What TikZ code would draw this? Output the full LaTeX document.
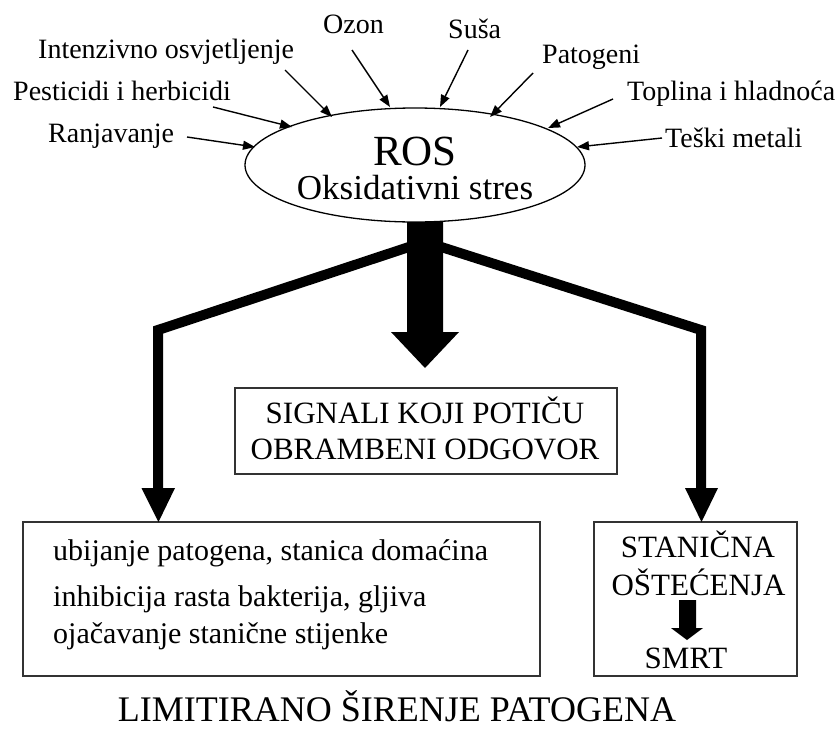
\documentclass[tikz,border=0pt]{standalone}
\usepackage{fontspec}
\setmainfont{Liberation Serif}
\usetikzlibrary{arrows.meta,shapes.geometric}
\begin{document}
\begin{tikzpicture}[x=1pt,y=-1pt,
  lbl/.style={inner sep=0pt, anchor=base west, font=\fontsize{28}{30}\selectfont},
  ctr/.style={inner sep=0pt, anchor=base},
  thinarrow/.style={line width=1.4pt, -{Triangle[length=12pt,width=9pt]}},
  boxstyle/.style={draw=black!80, line width=1.5pt, inner sep=0pt},
  thickline/.style={line width=10pt, line join=miter}]
\useasboundingbox (0,0) rectangle (840,731);

% central ellipse
\node[ellipse, draw, line width=1.3pt, minimum width=340pt, minimum height=114pt, inner sep=0pt] (ros) at (415,165) {};
\node[ctr, font=\fontsize{43}{45}\selectfont] (rostxt) at (415,165) {ROS};
\node[ctr, font=\fontsize{35}{37}\selectfont] (oks) at (415,199) {Oksidativni stres};

% stress factor labels
\node[lbl] (ozon) at (323,33) {Ozon};
\node[lbl] (inten) at (38,58) {Intenzivno osvjetljenje};
\node[lbl] (pest) at (13,100) {Pesticidi i herbicidi};
\node[lbl] (ranj) at (48,142) {Ranjavanje};
\node[lbl] (susa) at (448,38) {Suša};
\node[lbl] (pat) at (542,63) {Patogeni};
\node[lbl] (topl) at (627,100) {Toplina i hladnoća};
\node[lbl] (teski) at (665,147) {Teški metali};

% arrow endpoints
\coordinate (ozonS) at (352,50);  \coordinate (ozonE) at (390,107);
\coordinate (intS) at (285,70);   \coordinate (intE) at (332,117);
\coordinate (pestS) at (213,107); \coordinate (pestE) at (292,127);
\coordinate (ranjS) at (187,137); \coordinate (ranjE) at (255,147);
\coordinate (susaS) at (468,50);  \coordinate (susaE) at (440,107);
\coordinate (patS) at (533,73);   \coordinate (patE) at (490,117);
\coordinate (toplS) at (613,99);  \coordinate (toplE) at (548,128);
\coordinate (teskiS) at (662,138);\coordinate (teskiE) at (577,147);

\draw[thinarrow] (ozonS) -- (ozonE);
\draw[thinarrow] (intS) -- (intE);
\draw[thinarrow] (pestS) -- (pestE);
\draw[thinarrow] (ranjS) -- (ranjE);
\draw[thinarrow] (susaS) -- (susaE);
\draw[thinarrow] (patS) -- (patE);
\draw[thinarrow] (toplS) -- (toplE);
\draw[thinarrow] (teskiS) -- (teskiE);

% boxes
\node[boxstyle, minimum width=382pt, minimum height=86pt] (sig) at (426,431) {};
\node[ctr, font=\fontsize{31}{33}\selectfont] (sig1) at (425,423) {SIGNALI KOJI POTIČU};
\node[ctr, font=\fontsize{31}{33}\selectfont] (sig2) at (425,459) {OBRAMBENI ODGOVOR};

\node[boxstyle, minimum width=517pt, minimum height=154pt] (left) at (281.5,599) {};
\node[inner sep=0pt, anchor=base west, font=\fontsize{30}{32}\selectfont] (l1) at (53,560) {ubijanje patogena, stanica domaćina};
\node[inner sep=0pt, anchor=base west, font=\fontsize{30}{32}\selectfont] (l2) at (53,606) {inhibicija rasta bakterija, gljiva};
\node[inner sep=0pt, anchor=base west, font=\fontsize{30}{32}\selectfont] (l3) at (53,643) {ojačavanje stanične stijenke};

\node[boxstyle, minimum width=203pt, minimum height=154pt] (right) at (695.5,599) {};
\node[ctr, font=\fontsize{31}{33}\selectfont] (r1) at (698,557) {STANIČNA};
\node[ctr, font=\fontsize{31}{33}\selectfont] (r2) at (698.5,595) {OŠTEĆENJA};
\node[ctr, font=\fontsize{31}{33}\selectfont] (r3) at (686,668) {SMRT};

\node[ctr, font=\fontsize{36}{38}\selectfont] (title) at (397,721) {LIMITIRANO ŠIRENJE PATOGENA};

% thick central arrow
\fill (407,222) -- (443,222) -- (443,332) -- (459,332) -- (425,368) -- (391,332) -- (407,332) -- cycle;

% branches
\coordinate (lb0) at (415,245); \coordinate (lb1) at (158,330); \coordinate (lb2) at (158,492);
\coordinate (rb0) at (435,245); \coordinate (rb1) at (701,330); \coordinate (rb2) at (701,492);
\draw[thickline] (lb0) -- (lb1) -- (lb2);
\draw[thickline] (rb0) -- (rb1) -- (rb2);
\fill (141.5,488) -- (175,488) -- (158.5,522) -- cycle;
\fill (685,488) -- (718,488) -- (701.5,522) -- cycle;

% small arrow to SMRT
\fill (679,600) -- (696,600) -- (696,628) -- (703,628) -- (687,640) -- (671,628) -- (679,628) -- cycle;
\end{tikzpicture}
\end{document}
